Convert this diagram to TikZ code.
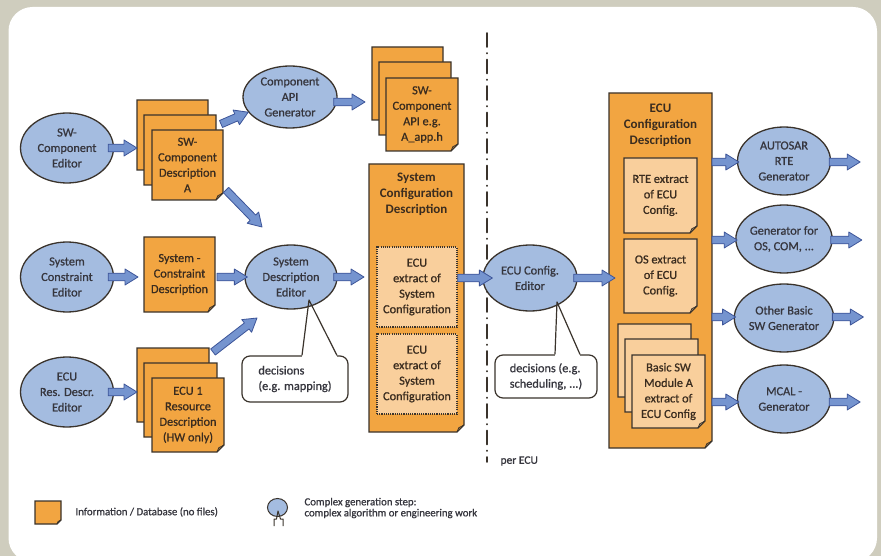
\documentclass[tikz,border=0pt]{standalone}
\usepackage{fontspec}
\setmainfont{Carlito}[UprightFeatures={FakeBold=0.9}]
\usetikzlibrary{calc,shapes.geometric}
\pgfdeclarelayer{backdrop}
\pgfdeclarelayer{background}
\pgfsetlayers{backdrop,background,main}

\definecolor{framegray}{HTML}{CFCDBE}
\definecolor{edge}{HTML}{3A332C}
\definecolor{orng}{HTML}{F2A541}
\definecolor{peach}{HTML}{F9CF9C}
\definecolor{genblue}{HTML}{A4BCE0}
\definecolor{arrowblue}{HTML}{7594CF}
\definecolor{arrowedge}{HTML}{3D5599}
\definecolor{ink}{HTML}{36363E}
\definecolor{brownink}{HTML}{3A2C1F}

\newcommand\dgfont{\fontsize{12.3}{15.5}\selectfont}
\newcommand\dgtitlefont{\fontsize{13}{16.2}\selectfont\bfseries}
\newcommand\dglegfont{\fontsize{10.8}{11}\selectfont}
\def\foldsz{7pt}

% paper sheet with a folded lower right corner, drawn behind the node
\newcommand\sheetbg[2][orng]{%
  \begin{pgfonlayer}{background}
    \path[sheetline, fill=#1] (#2.north west) -- (#2.north east)
      -- ([yshift=\foldsz]#2.south east) -- ([xshift=-\foldsz]#2.south east)
      -- (#2.south west) -- cycle;
    \path[foldline] ([yshift=\foldsz]#2.south east)
      -- ([xshift={-0.75*\foldsz},yshift={0.6*\foldsz}]#2.south east)
      -- ([xshift=-\foldsz]#2.south east);
  \end{pgfonlayer}}

% [fill]{name}{x1}{y1}{x2}{y2}{text}
\newcommand\docsheet[7][orng]{%
  \node[sheet, minimum width={#5-#3}, minimum height={#6-#4}]
    (#2) at ({(#3+#5)/2},{(#4+#6)/2}) {#7};
  \sheetbg[#1]{#2}}

% fat block arrow from #1 to #2
\newcommand\blockarrow[2]{%
  \path[blockarr] let \p1=(#1), \p2=(#2),
      \n1={atan2(\y2-\y1,\x2-\x1)}, \n2={veclen(\x2-\x1,\y2-\y1)-13}
    in ($(\p1)+(\n1+90:3.8pt)$)
    -- ($(\p1)+(\n1:\n2)+(\n1+90:3.8pt)$)
    -- ($(\p1)+(\n1:\n2)+(\n1+90:8pt)$)
    -- (\p2)
    -- ($(\p1)+(\n1:\n2)+(\n1-90:8pt)$)
    -- ($(\p1)+(\n1:\n2)+(\n1-90:3.8pt)$)
    -- ($(\p1)+(\n1-90:3.8pt)$) -- cycle;}

% speech pointer from the top edge of a note to a tip
\newcommand\calloutptr[4]{%
  \fill[white] ($(#1.north)+(#3,-1)$) rectangle ($(#1.north)+(#4,1.6)$);
  \draw[noteline] ($(#1.north)+(#3,0)$) -- (#2) -- ($(#1.north)+(#4,0)$);}

\begin{document}
\begin{tikzpicture}[x=1pt,y=-1pt,
  every node/.style={font=\dgfont},
  gen/.style={ellipse, draw=edge, line width=1.3pt, fill=genblue,
    align=center, inner sep=0pt, text=ink},
  sheet/.style={rectangle, inner sep=0pt, outer sep=0pt, align=center,
    text=brownink},
  sheetline/.style={draw=edge, line width=1.3pt, line join=miter},
  foldline/.style={draw=edge, line width=0.8pt, line join=round},
  boxtitle/.style={font=\dgtitlefont, align=center, text=brownink},
  dotbox/.style={rectangle, draw=edge, line width=1.3pt,
    dash pattern=on 1.1pt off 1.1pt, fill=peach, inner sep=0pt,
    align=center, text=brownink},
  note/.style={rectangle, rounded corners=8pt, draw=edge, line width=1.2pt,
    fill=white, align=left, inner sep=0pt, text=ink},
  noteline/.style={draw=edge, line width=1.2pt, line join=round},
  blockarr/.style={fill=arrowblue, draw=arrowedge, line width=0.8pt,
    line join=round},
  sepline/.style={draw=edge, line width=1.8pt, line cap=round,
    dash pattern=on 14pt off 6pt on 0.5pt off 6pt},
  legtext/.style={font=\dglegfont, text=ink}]

\useasboundingbox (0,0) rectangle (881,556);
\begin{pgfonlayer}{backdrop}
  \fill[framegray] (0,0) rectangle (881,556);
  \fill[white, rounded corners=24pt] (8.5,7) rectangle (877,562);
\end{pgfonlayer}

% editors on the left
\node[gen, minimum width=93pt, minimum height=70pt] (swed) at (67,148) {SW-\\Component\\Editor};
\node[gen, minimum width=93pt, minimum height=70pt] (sced) at (67,277) {System\\Constraint\\Editor};
\node[gen, minimum width=93pt, minimum height=70pt] (ered) at (67,392) {ECU\\Res. Descr.\\Editor};

% input descriptions
\docsheet{swdC}{137}{100}{208}{170}{}
\docsheet{swdB}{144}{115}{216}{185}{}
\docsheet{swdA}{152}{130}{223}{200}{SW-\\Component\\Description\\A}
\docsheet{scd}{144}{237}{215}{312}{System -\\Constraint\\Description}
\docsheet{ecuC}{137}{348}{209}{422}{}
\docsheet{ecuB}{144}{363}{217}{437}{}
\docsheet{ecuA}{152}{378}{224}{452}{ECU 1\\Resource\\Description\\(HW only)}

% component API generation
\node[gen, minimum width=94pt, minimum height=62pt] (cag) at (290,97) {Component\\API\\Generator};
\docsheet{apiC}{372}{47}{443}{120}{}
\docsheet{apiB}{379}{62}{451}{135}{}
\docsheet{apiA}{386}{78}{458}{151}{SW-\\Component\\API e.g.\\A\_app.h}

\node[gen, minimum width=92pt, minimum height=64pt] (sde) at (291,277) {System\\Description\\Editor};

% system configuration description
\docsheet{scfg}{369}{164}{464}{432}{}
\node[boxtitle] (scfgT) at (416.5,194) {System\\Configuration\\Description};
\node[dotbox, minimum width=80pt, minimum height=80pt] (ex1) at (417,287) {ECU\\extract of\\System\\Configuration};
\node[dotbox, minimum width=80pt, minimum height=80pt] (ex2) at (417,374) {ECU\\extract of\\System\\Configuration};

% per ECU separator
\coordinate (sepTop) at (487,33);
\coordinate (sepBot) at (487,462);
\draw[sepline] (sepTop) -- (sepBot);
\node[anchor=west, font=\fontsize{11.5}{13}\selectfont, text=ink] (perecu) at (497,461) {per ECU};

\node[gen, minimum width=94pt, minimum height=66pt] (ece) at (530,278) {ECU Config.\\Editor};

% ECU configuration description
\docsheet{ecfg}{609}{93}{712}{448}{}
\node[boxtitle] (ecfgT) at (660.5,125) {ECU\\Configuration\\Description};
\docsheet[peach]{rte}{624}{158}{697}{233}{RTE extract\\of ECU\\Config.}
\docsheet[peach]{osx}{624}{239}{697}{313}{OS extract\\of ECU\\Config.}
\docsheet[peach]{bswC}{618}{324}{691}{397}{}
\docsheet[peach]{bswB}{625}{339}{698}{412}{}
\docsheet[peach]{bswA}{632}{355}{705}{428}{Basic SW\\Module A\\extract of\\ECU Config}

% generators
\node[gen, minimum width=93pt, minimum height=68pt] (rteg) at (784,161) {AUTOSAR\\RTE\\Generator};
\node[gen, minimum width=93pt, minimum height=68pt] (osg) at (784,239) {Generator for\\OS, COM, ...};
\node[gen, minimum width=93pt, minimum height=68pt] (bswg) at (784,318) {Other Basic\\SW Generator};
\node[gen, minimum width=93pt, minimum height=68pt] (mcal) at (784,399) {MCAL -\\Generator};

% decision notes
\node[note, minimum width=106pt, minimum height=46pt] (dec1) at (295,379) {decisions\\(e.g. mapping)};
\coordinate (dec1tip) at ($(sde.center)+(18,23)$);
\calloutptr{dec1}{dec1tip}{7}{42}
\node[note, minimum width=102pt, minimum height=43pt] (dec2) at (546,376.5) {decisions (e.g.\\scheduling, ...)};
\coordinate (dec2tip) at ($(ece.center)+(27,24)$);
\calloutptr{dec2}{dec2tip}{9}{34}

% free ends of arrows
\coordinate (sdeIn1) at ($(sde.center)+(-29,-50)$);
\coordinate (sdeIn2) at ($(sde.center)+(-34,41)$);
\coordinate (rteOut) at ($(rteg.east)+(29,1)$);
\coordinate (osOut) at ($(osg.east)+(29,1)$);
\coordinate (bswOut) at ($(bswg.east)+(29,-1)$);
\coordinate (mcalOut) at ($(mcal.east)+(29,3)$);

% flow arrows
\blockarrow{[xshift=-6pt]swed.east}{swdC.west |- swed.east}
\blockarrow{$(swdA.north east)+(-2,-6)$}{cag.200}
\blockarrow{$(swdA.south east)+(3,-10)$}{sdeIn1}
\blockarrow{$(cag.east)+(-4,5)$}{$(apiC.west |- cag.east)+(-7,5)$}
\blockarrow{[xshift=-6pt]sced.east}{$(scd.west |- sced.east)+(-6,0)$}
\blockarrow{$(scd.east |- sde.west)+(2,0)$}{[xshift=3pt]sde.west}
\blockarrow{[xshift=-6pt]ered.east}{ecuC.west |- ered.east}
\blockarrow{$(ecuC.north east)+(4,4)$}{sdeIn2}
\blockarrow{[xshift=-4pt]sde.east}{$(scfg.west |- sde.east)+(-5,0)$}
\blockarrow{ex1.east |- ece.west}{[xshift=10pt]ece.west}
\blockarrow{[xshift=-4pt]ece.east}{$(ecfg.west |- ece.east)+(6,0)$}
\blockarrow{$(ecfg.east |- rteg.west)+(0,1)$}{$(rteg.west)+(2,1)$}
\blockarrow{$(ecfg.east |- osg.west)+(0,1)$}{$(osg.west)+(2,1)$}
\blockarrow{$(ecfg.east |- bswg.west)+(0,-1)$}{$(bswg.west)+(2,-1)$}
\blockarrow{$(ecfg.east |- mcal.west)+(0,3)$}{$(mcal.west)+(2,3)$}
\blockarrow{$(rteg.east)+(-2,1)$}{rteOut}
\blockarrow{$(osg.east)+(-2,1)$}{osOut}
\blockarrow{$(bswg.east)+(-2,-1)$}{bswOut}
\blockarrow{$(mcal.east)+(-2,3)$}{mcalOut}

% legend
\def\foldsz{4pt}
\docsheet{legsheet}{35}{501}{61}{524}{}
\node[legtext, anchor=west] (leg1) at (72,512) {Information / Database (no files)};
\node[gen, minimum width=20pt, minimum height=18pt, line width=1pt] (legell) at (277.5,507.5) {};
\coordinate (legtip) at (278,511);
\fill[white] (274,519) rectangle (283,526);
\draw[noteline, line width=1pt] (274,526) -- (274,519) -- (276.5,519) -- (legtip) -- (280.5,519) -- (283,519) -- (283,526);
\node[legtext, anchor=west, align=left] (leg2) at (301,508) {Complex generation step:\\complex algorithm or engineering work};
\end{tikzpicture}
\end{document}
